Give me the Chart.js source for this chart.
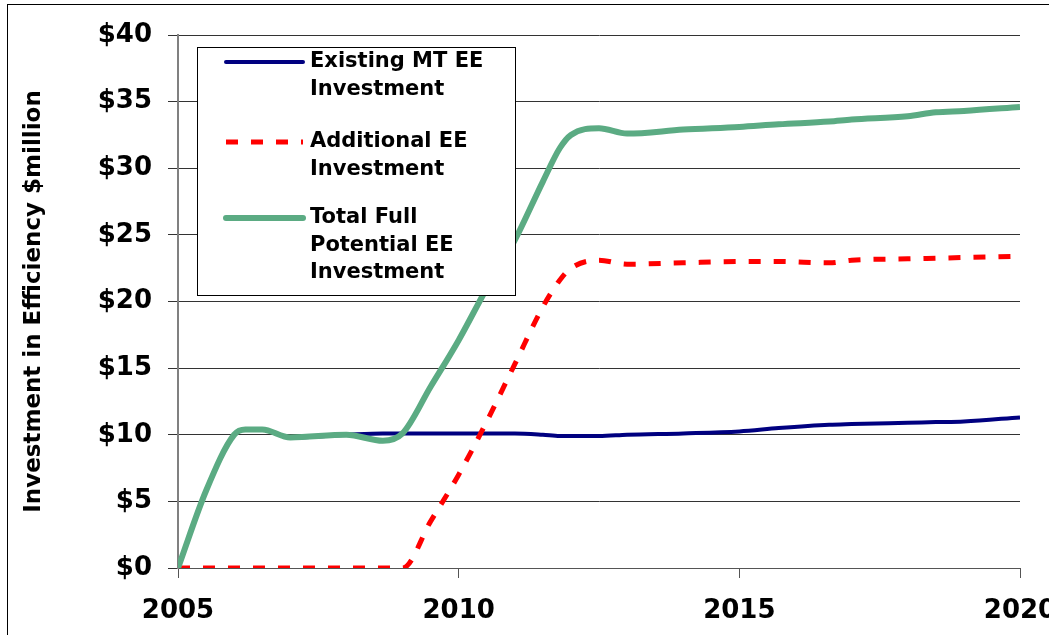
<!DOCTYPE html>
<html>
<head>
<meta charset="utf-8">
<script src="https://cdn.jsdelivr.net/npm/chart.js@4.4.1/dist/chart.umd.min.js"></script>
<style>
  html, body { margin: 0; padding: 0; width: 1049px; height: 635px; overflow: hidden; background: #fff; }
  #frame { position: absolute; left: 7px; top: 4px; width: 1100px; height: 700px; border: 1px solid #000; }
  #wrap { position: absolute; left: 0; top: 0; width: 1080px; height: 635px; }
</style>
</head>
<body>
<div id="frame"></div>
<div id="wrap"><canvas id="chart"></canvas></div>
<script>
const years = [2005, 2005.5, 2006, 2006.2, 2006.5, 2007, 2008, 2008.65, 2009, 2009.5, 2010, 2010.5,
  2011, 2011.5, 2011.8, 2012, 2012.5, 2013, 2014, 2015, 2015.7, 2016.6, 2017, 2018, 2018.5, 2019, 2020];
const existing = [0, 5.8, 10.0, 10.4, 10.4, 9.8, 10.0, 10.1, 10.1, 10.1, 10.1, 10.1,
  10.1, 10.0, 9.9, 9.9, 9.9, 10.0, 10.1, 10.25, 10.5, 10.75, 10.8, 10.9, 10.95, 11.0, 11.3];
const additional = [0, 0, 0, 0, 0, 0, 0, 0, 0, 3.5, 7.0, 11.0,
  15.3, 19.6, 21.6, 22.5, 23.1, 22.8, 22.9, 23.0, 23.0, 22.9, 23.1, 23.2, 23.25, 23.3, 23.4];
const total = [0, 5.8, 10.0, 10.4, 10.4, 9.8, 10.0, 9.55, 10.1, 13.6, 17.1, 21.0,
  24.6, 29.0, 31.5, 32.5, 33.0, 32.6, 32.9, 33.1, 33.3, 33.5, 33.65, 33.9, 34.2, 34.3, 34.6];
const seriesLabels = [['Existing MT EE', 'Investment'], ['Additional EE', 'Investment'], ['Total Full', 'Potential EE', 'Investment']];
const yTicks = [0, 5, 10, 15, 20, 25, 30, 35, 40];
const xTicks = [2005, 2010, 2015, 2020];

const pts = (vals) => years.map((x, i) => ({ x, y: vals[i] }));
const FONT = "'DejaVu Sans', sans-serif";

// legend box drawn inside the plot, multi-line labels
const boxLegend = {
  id: 'boxLegend',
  afterDraw(chart) {
    const { ctx, chartArea } = chart;
    const bx = chartArea.left + 19, by = chartArea.top + 12, bw = 318, bh = 248;
    ctx.save();
    ctx.fillStyle = '#fff';
    ctx.fillRect(bx, by, bw, bh);
    ctx.strokeStyle = '#000';
    ctx.lineWidth = 1;
    ctx.strokeRect(bx + 0.5, by + 0.5, bw, bh);
    const rows = [15, 95, 171];
    ctx.font = 'bold 21px ' + FONT;
    ctx.textBaseline = 'middle';
    ctx.fillStyle = '#000';
    chart.data.datasets.forEach((ds, i) => {
      const y = by + rows[i];
      ctx.beginPath();
      ctx.strokeStyle = ds.borderColor;
      ctx.lineWidth = ds.borderWidth;
      ctx.setLineDash(ds.borderDash || []);
      ctx.lineCap = ds.borderDash ? 'butt' : 'round';
      ctx.moveTo(bx + 29, y);
      ctx.lineTo(bx + 106, y);
      ctx.stroke();
      ctx.setLineDash([]);
      seriesLabels[i].forEach((t, j) => ctx.fillText(t, bx + 113, y + j * 27.5));
    });
    ctx.restore();
  }
};

new Chart(document.getElementById('chart'), {
  type: 'line',
  data: {
    datasets: [
      { label: 'Existing MT EE Investment', data: pts(existing), borderColor: '#000080', borderWidth: 4, order: 2 },
      { label: 'Additional EE Investment', data: pts(additional), borderColor: '#ff0000', borderWidth: 5, borderDash: [12, 13], order: 1 },
      { label: 'Total Full Potential EE Investment', data: pts(total), borderColor: '#5bab83', borderWidth: 6, order: 0 }
    ]
  },
  options: {
    responsive: true,
    maintainAspectRatio: false,
    animation: false,
    layout: { padding: { top: 35, right: 60, left: 0, bottom: 0 } },
    elements: { point: { radius: 0 }, line: { cubicInterpolationMode: 'monotone', fill: false } },
    scales: {
      x: {
        type: 'linear', min: 2005, max: 2020,
        afterBuildTicks: (s) => { s.ticks = xTicks.map(v => ({ value: v })); },
        afterFit: (s) => { s.height = 67; },
        ticks: { color: '#000', padding: 18, maxRotation: 0, callback: (v) => String(v), font: { family: FONT, size: 26, weight: 'bold' } },
        grid: { display: true, drawOnChartArea: false, tickLength: 10, color: '#555' },
        border: { color: '#555', width: 1 }
      },
      y: {
        min: 0, max: 40,
        afterBuildTicks: (s) => { s.ticks = yTicks.map(v => ({ value: v })); },
        afterFit: (s) => { s.width = 178; },
        ticks: { color: '#000', padding: 16, callback: (v) => '$' + v, font: { family: FONT, size: 26, weight: 'bold' } },
        grid: { color: '#333', tickLength: 10 },
        border: { color: '#808080', width: 2 },
        title: {
          display: true, text: 'Investment in Efficiency $million', color: '#000',
          padding: { top: 20, bottom: 0 },
          font: { family: FONT, size: 23, weight: 'bold' }
        }
      }
    },
    plugins: { legend: { display: false }, tooltip: { enabled: false } }
  },
  plugins: [boxLegend]
});
</script>
</body>
</html>
